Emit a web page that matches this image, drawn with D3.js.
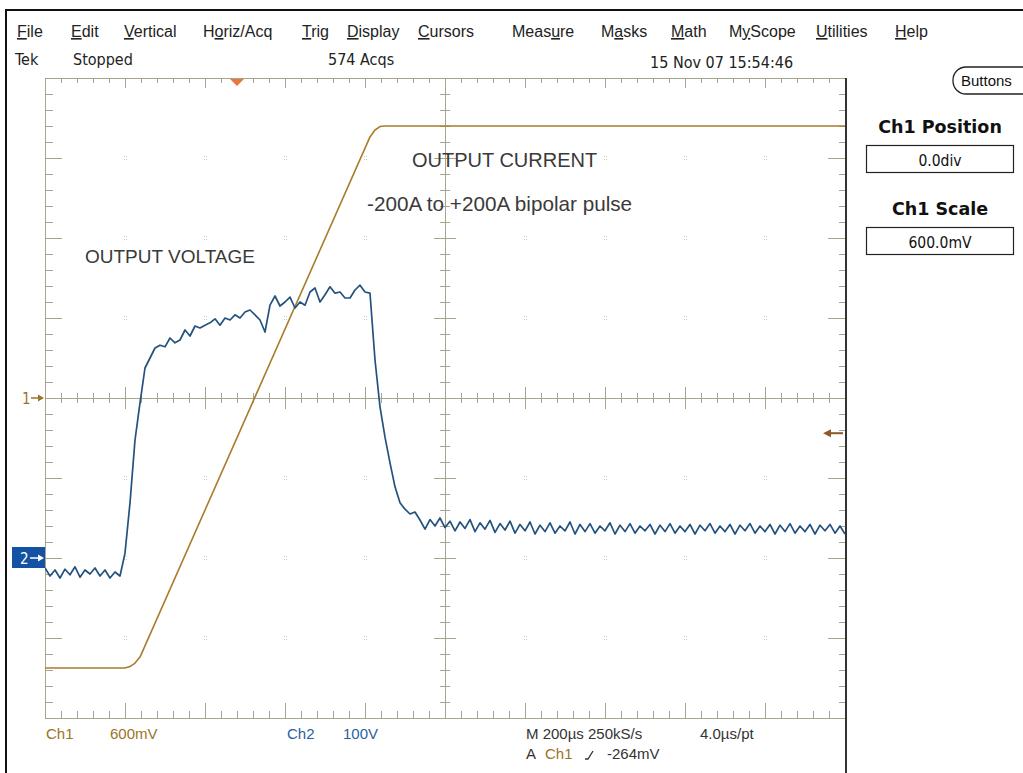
<!DOCTYPE html>
<html><head><meta charset="utf-8">
<script src="https://cdn.jsdelivr.net/npm/d3@7"></script>
<style>body{margin:0;background:#fff}svg{display:block}</style>
</head><body><svg id="c" width="1023" height="773"></svg>
<script>
// ---------- DATA ----------
const menuLabels = ["File","Edit","Vertical","Horiz/Acq","Trig","Display","Cursors","Measure","Masks","Math","MyScope","Utilities","Help"];
const menuUnderline = [0,0,0,1,0,0,0,4,1,0,1,0,0];
const statusTexts = ["Tek","Stopped","574 Acqs","15 Nov 07 15:54:46"];
const annotations = ["OUTPUT CURRENT","-200A to +200A bipolar pulse","OUTPUT VOLTAGE"];
const sidePanel = [["Ch1 Position","0.0div"],["Ch1 Scale","600.0mV"]];

const timePerDiv = 200;        // µs
const ch1VoltsPerDiv = 0.6;    // V
const ch2VoltsPerDiv = 100;    // V
const ch1PositionDiv = 0;
const ch2PositionDiv = -2;
const triggerTime = 480;       // µs from left edge
const triggerLevel = -0.264;   // V on Ch1

// Ch1 : output current (breakpoints)
const ch1Time  = [0, 200, 212.5, 225, 237.5, 812.5, 825, 837.5, 850, 2000];
const ch1Volts = [-2.025, -2.025, -2.014, -1.988, -1.943, 1.958, 2.01, 2.036, 2.04, 2.04];

// Ch2 : output voltage, one sample every 12.5 µs starting at 0
const ch2SampleInterval = 12.5;
const ch2Volts = [
 -12.5,-22.5,-15,-25,-14,-21,-11,-24,-15,-20,-12.5,-22.5,-15,-25,-17.5,-22.5,
 6,69,147.5,194,237.5,250,262.5,266,264,275,269,272.5,285,277.5,290,287.5,291,294,299,291,
 300,297.5,304,300,307.5,310,304,297.5,282.5,316,327.5,315,320,326,312.5,320,316,332.5,337.5,320,
 329,339,331,332.5,325,325,335,341,332.5,331,247.5,189,151,119,89,69,61,55,57.5,47.5,
 36,48,40,50,38,46,34,45,37,48,33,44,36,47,32,43,35,46,31,42,34,45,30,41,33,44,31,40,34,45,
 30,42,33,43,31,40,34,44,30,41,33,43,31,40,34,42,30,41,33,43,31,40,33,42,30,41,34,43,31,40,
 33,42,30,41,34,43,31,40,33,42,30,41,33,43,31,40,33,42,30,41,34,42,31,40,30
];

const bottomLeft = [["Ch1","600mV"],["Ch2","100V"]];
const bottomRight = ["M 200µs 250kS/s","4.0µs/pt","A","Ch1","-264mV"];

// ---------- LAYOUT ----------
const svg = d3.select("#c");
const L = 45, R = 845, T = 78, B = 718;
const divsX = 10, divsY = 8;
const gx = d3.scaleLinear().domain([0, divsX]).range([L, R]);
const gy = d3.scaleLinear().domain([0, divsY]).range([T, B]);
const x = d3.scaleLinear().domain([0, divsX * timePerDiv]).range([L, R]);
const y1 = d3.scaleLinear()
  .domain([(-4 - ch1PositionDiv) * ch1VoltsPerDiv, (4 - ch1PositionDiv) * ch1VoltsPerDiv]).range([B, T]);
const y2 = d3.scaleLinear()
  .domain([(-4 - ch2PositionDiv) * ch2VoltsPerDiv, (4 - ch2PositionDiv) * ch2VoltsPerDiv]).range([B, T]);

const gcol = "#a9a48c";
const ch1Col = "#a97c2c", ch2Col = "#24527e";
const ch1Text = "#9a7428", ch2Text = "#2a5f9e";

// outer frame
svg.append("line").attr("x1",6).attr("x2",1023).attr("y1",10).attr("y2",10).attr("stroke","#111").attr("stroke-width",2);
svg.append("line").attr("x1",6).attr("x2",6).attr("y1",9).attr("y2",773).attr("stroke","#111").attr("stroke-width",2);

// menu
const menuX = [17,71,124,203,302,347,418,512,601,671,729,816,895];
const menu = svg.append("g").attr("font-family","Liberation Sans, Arial, sans-serif").attr("font-size",16).attr("fill","#222");
menuLabels.forEach((m,i)=>{
  const t = menu.append("text").attr("x",menuX[i]).attr("y",37);
  const k = menuUnderline[i];
  if (k>0) t.append("tspan").text(m.slice(0,k));
  t.append("tspan").attr("text-decoration","underline").text(m.slice(k,k+1));
  t.append("tspan").text(m.slice(k+1));
});

// status row
const stX = [15,73,328,650], stY = [65,65,65,68];
const st = svg.append("g").attr("font-family","DejaVu Sans Condensed, DejaVu Sans, sans-serif").attr("font-size",16).attr("fill","#222");
statusTexts.forEach((s,i)=>st.append("text").attr("x",stX[i]).attr("y",stY[i]).text(s));

// Buttons
svg.append("rect").attr("x",953).attr("y",67).attr("width",90).attr("height",27).attr("rx",13).attr("fill","#fff").attr("stroke","#222").attr("stroke-width",1.3);
svg.append("text").attr("x",961).attr("y",86).attr("font-family","Liberation Sans, Arial, sans-serif").attr("font-size",15).attr("fill","#111").text("Buttons");

// side panel
sidePanel.forEach((p,i)=>{
  const oy = i*82;
  svg.append("text").attr("x",940).attr("y",133+oy).attr("text-anchor","middle")
    .attr("font-family","DejaVu Sans, sans-serif").attr("font-weight","bold").attr("font-size",17.5).attr("fill","#111").text(p[0]);
  svg.append("rect").attr("x",866.5).attr("y",145.5+oy).attr("width",147).attr("height",27).attr("fill","#fff").attr("stroke","#222").attr("stroke-width",1.2);
  svg.append("text").attr("x",940).attr("y",166+oy).attr("text-anchor","middle")
    .attr("font-family","DejaVu Sans Condensed, DejaVu Sans, sans-serif").attr("font-size",15.5).attr("fill","#111").text(p[1]);
});

// ---------- GRATICULE ----------
const g = svg.append("g").attr("stroke",gcol).attr("stroke-width",1).attr("shape-rendering","crispEdges");
const cx = gx(divsX/2), cy = gy(divsY/2);
g.append("line").attr("x1",L).attr("x2",R).attr("y1",T).attr("y2",T);
g.append("line").attr("x1",L).attr("x2",L).attr("y1",T).attr("y2",B);
g.append("line").attr("x1",L).attr("x2",R).attr("y1",B).attr("y2",B);
g.append("line").attr("x1",L).attr("x2",R).attr("y1",cy).attr("y2",cy);
g.append("line").attr("x1",cx).attr("x2",cx).attr("y1",T).attr("y2",B);
d3.range(0, divsX*5+1).forEach(i=>{
  const xv = gx(i/5), major = i%5===0;
  g.append("line").attr("x1",xv).attr("x2",xv).attr("y1",T).attr("y2",T+(major?10:5));
  g.append("line").attr("x1",xv).attr("x2",xv).attr("y1",B).attr("y2",B-(major?15:7));
  g.append("line").attr("x1",xv).attr("x2",xv).attr("y1",cy-(major?11:5)).attr("y2",cy+(major?11:5));
});
d3.range(0, divsY*5+1).forEach(j=>{
  const yv = gy(j/5), major = j%5===0;
  g.append("line").attr("x1",L).attr("x2",L+(major?17:8)).attr("y1",yv).attr("y2",yv);
  g.append("line").attr("x1",R-(major?17:6)).attr("x2",R).attr("y1",yv).attr("y2",yv);
  g.append("line").attr("x1",cx-(major?11:5)).attr("x2",cx+(major?11:5)).attr("y1",yv).attr("y2",yv);
});
// faint grid dots
const dots = svg.append("g").attr("fill","#cfcbbd");
d3.range(1,divsX).forEach(i=>d3.range(1,divsY).forEach(j=>{
  if (i===divsX/2 || j===divsY/2) return;
  [[-1,-2],[1,-2],[-1,1],[1,1]].forEach(d=>dots.append("rect").attr("x",gx(i)+d[0]).attr("y",gy(j)+d[1]).attr("width",1).attr("height",1));
}));
// right separator
svg.append("line").attr("x1",R+1).attr("x2",R+1).attr("y1",T).attr("y2",773).attr("stroke","#333").attr("stroke-width",2);

// ---------- TRACES ----------
const defs = svg.append("defs");
defs.append("clipPath").attr("id","clip").append("rect").attr("x",L).attr("y",T).attr("width",R-L).attr("height",B-T);
const traces = svg.append("g").attr("clip-path","url(#clip)");
const ch1Data = ch1Time.map((t,i)=>[t, ch1Volts[i]]);
const ch2Data = ch2Volts.map((v,i)=>[i*ch2SampleInterval, v]);
traces.append("path").datum(ch1Data)
  .attr("d", d3.line().x(d=>x(d[0])).y(d=>y1(d[1])))
  .attr("fill","none").attr("stroke",ch1Col).attr("stroke-width",1.6).attr("stroke-linejoin","round");
traces.append("path").datum(ch2Data)
  .attr("d", d3.line().x(d=>x(d[0])).y(d=>y2(d[1])))
  .attr("fill","none").attr("stroke",ch2Col).attr("stroke-width",1.7).attr("stroke-linejoin","round");

// ---------- ANNOTATIONS ----------
const ann = svg.append("g").attr("font-family","Liberation Sans, Arial, sans-serif").attr("fill","#3a3a3a");
ann.append("text").attr("x",412).attr("y",167).attr("font-size",20).text(annotations[0]);
ann.append("text").attr("x",367).attr("y",211).attr("font-size",20.7).text(annotations[1]);
ann.append("text").attr("x",85).attr("y",263).attr("font-size",19).text(annotations[2]);

// ---------- MARKERS ----------
// Ch1 ground marker
const m1y = y1(0);
svg.append("text").attr("x",22).attr("y",m1y+6).attr("font-family","DejaVu Sans Condensed, sans-serif").attr("font-size",15).attr("fill",ch1Text).text("1");
svg.append("line").attr("x1",31).attr("x2",41).attr("y1",m1y).attr("y2",m1y).attr("stroke",ch1Text).attr("stroke-width",1.5);
svg.append("path").attr("d",`M44,${m1y} L38,${m1y-3.5} L38,${m1y+3.5} Z`).attr("fill",ch1Text);
// Ch2 ground marker
const m2y = y2(0);
svg.append("rect").attr("x",12).attr("y",m2y-11).attr("width",33).attr("height",21).attr("fill","#1452a3");
svg.append("text").attr("x",20).attr("y",m2y+6).attr("font-family","DejaVu Sans Condensed, sans-serif").attr("font-size",15).attr("fill","#fff").text("2");
svg.append("line").attr("x1",30).attr("x2",40).attr("y1",m2y).attr("y2",m2y).attr("stroke","#fff").attr("stroke-width",1.5);
svg.append("path").attr("d",`M44,${m2y} L38,${m2y-3.5} L38,${m2y+3.5} Z`).attr("fill","#fff");
// trigger position
const tx = x(triggerTime);
svg.append("path").attr("d",`M${tx-7},${T+1} L${tx+7},${T+1} L${tx},${T+8} Z`).attr("fill","#e8783a");
// trigger level
const ty = y1(triggerLevel);
svg.append("line").attr("x1",829).attr("x2",843).attr("y1",ty).attr("y2",ty).attr("stroke","#8b5a2b").attr("stroke-width",2);
svg.append("path").attr("d",`M823,${ty} L831,${ty-4} L831,${ty+4} Z`).attr("fill","#8b5a2b");

// ---------- BOTTOM READOUTS ----------
const bf = "Liberation Sans, Arial, sans-serif";
const bl = svg.append("g").attr("font-family",bf).attr("font-size",15);
bl.append("text").attr("x",46).attr("y",739).attr("fill",ch1Text).text(bottomLeft[0][0]);
bl.append("text").attr("x",110).attr("y",739).attr("fill",ch1Text).text(bottomLeft[0][1]);
bl.append("text").attr("x",287).attr("y",739).attr("fill",ch2Text).text(bottomLeft[1][0]);
bl.append("text").attr("x",343).attr("y",739).attr("fill",ch2Text).text(bottomLeft[1][1]);
bl.append("text").attr("x",526).attr("y",739).attr("fill","#333").text(bottomRight[0]);
bl.append("text").attr("x",700).attr("y",739).attr("fill","#333").text(bottomRight[1]);
bl.append("text").attr("x",526).attr("y",759).attr("fill","#333").text(bottomRight[2]);
bl.append("text").attr("x",545).attr("y",759).attr("fill",ch1Text).text(bottomRight[3]);
bl.append("path").attr("d","M585,759 L588,759 L593,751").attr("fill","none").attr("stroke","#333").attr("stroke-width",1.3);
bl.append("text").attr("x",607).attr("y",759).attr("fill","#333").text(bottomRight[4]);
</script></body></html>
